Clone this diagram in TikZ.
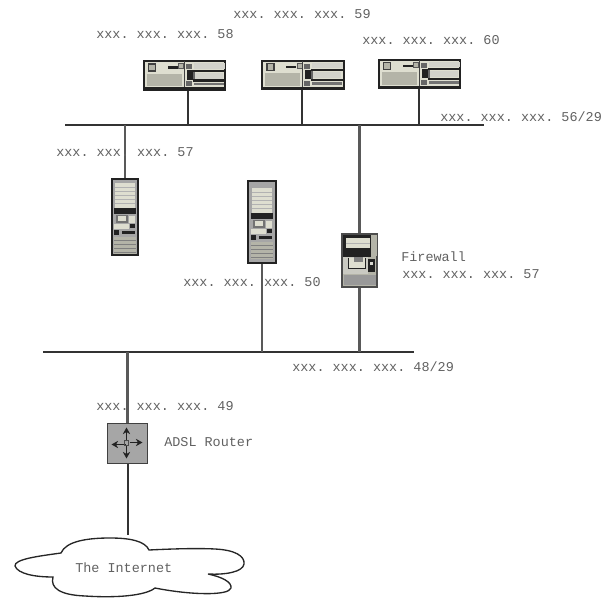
\documentclass[tikz,border=0pt]{standalone}
\usepackage{fontspec}
\setmonofont{Liberation Mono}
\usetikzlibrary{arrows.meta}
\definecolor{boxgray}{HTML}{A6A6A6}
\definecolor{lightpart}{HTML}{DEDED0}
\definecolor{darkpart}{HTML}{222222}
\definecolor{midgray}{HTML}{B4B4A8}
\tikzset{
  x=0.75pt,y=-0.75pt,
  label text/.style={font=\ttfamily\fontsize{10.1}{12}\selectfont,text=black!62,anchor=west,inner sep=0pt},
  bus/.style={draw=black!80,line width=1.5pt},
  link/.style={draw=black!65,line width=1.7pt},
  device/.style={draw=darkpart,line width=1.3pt,fill=lightpart,inner sep=0pt},
  stripes/.style={draw=black!30,line width=0.4pt},
  pics/serverart/.style={code={
    \fill[midgray] (-38,-1.5) rectangle (-3,11);
    \draw[black!75,fill=midgray,line width=0.8pt] (-36,-11.5) rectangle (-29,-4.5);
    \fill[darkpart] (-17,-9) rectangle (-7,-6.5);
    \draw[black!65,fill=midgray,line width=0.7pt] (-6,-12) rectangle (-1,-7);
    \fill[black!75] (-1,-14) rectangle (0,13);
    \fill[black!60] (1,-11) rectangle (7,-6);
    \fill[darkpart] (2,-5) rectangle (8,4.5);
    \fill[black!60] (1,6) rectangle (7,11);
    \fill[darkpart] (8,-5.5) rectangle (40,-3.5);
    \fill[darkpart] (8,4) rectangle (40,6.5);
    \fill[black!60] (8,-3.5) rectangle (10,4);
    \fill[midgray!60] (10,-2.5) rectangle (38,3.5);
    \fill[midgray!60] (9,-12) rectangle (40,-6.5);
    \fill[black!55] (9,7.5) rectangle (39,10);
    \fill[darkpart] (-40,12) rectangle (40,14);
  }},
  pics/towerart/.style={code={
    \fill[lightpart] (-10,-34) rectangle (10,-9);
    \foreach \yy in {-30,-26,-22,-18,-14}{\draw[stripes] (-10,\yy) -- (10,\yy);}
    \fill[darkpart] (-11,-9) rectangle (11,-3);
    \fill[black!55] (-9,-2) rectangle (3,6);
    \fill[lightpart] (-7,-1) rectangle (1,4);
    \fill[lightpart] (4,-1) rectangle (10,6);
    \fill[darkpart] (5,7) rectangle (10,11);
    \fill[lightpart] (-11,7) rectangle (4,12);
    \fill[darkpart] (-11,13) rectangle (-6,18);
    \fill[darkpart] (-3,14) rectangle (10,17);
    \fill[midgray] (-11,20) rectangle (11,37);
    \foreach \yy in {23,27,31,35}{\draw[black!50,line width=0.4pt] (-11,\yy) -- (11,\yy);}
  }},
  pics/firewallart/.style={code={
    \fill[darkpart] (-17,-25) rectangle (11,-3);
    \fill[lightpart] (-14,-22) rectangle (10,-12);
    \draw[stripes] (-14,-17) -- (10,-17);
    \fill[midgray] (12,-25) rectangle (17,-4);
    \fill[midgray!70] (-17,-3) rectangle (8,14);
    \draw[darkpart,fill=lightpart,line width=0.9pt] (-11,-2) -- (-11,8) -- (6,8) -- (6,-2);
    \fill[black!50] (-6,-3) rectangle (3,2);
    \fill[darkpart] (8,-1) rectangle (15,12);
    \fill[midgray!50] (10,2) rectangle (13,5);
    \fill[black!40] (-16,15) rectangle (16,25);
  }},
  pics/routerart/.style={code={
    \draw[-{Stealth[length=5pt,width=5.5pt]},darkpart,line width=0.6pt] (-1,-2) -- (-1,-16);
    \draw[-{Stealth[length=5pt,width=5.5pt]},darkpart,line width=0.6pt] (-1,2) -- (-1,15);
    \draw[-{Stealth[length=5pt,width=5.5pt]},darkpart,line width=0.6pt] (-2,1) -- (-16,1);
    \draw[-{Stealth[length=5pt,width=5.5pt]},darkpart,line width=0.6pt] (2,-1) -- (15,-1);
    \draw[black!70,line width=0.4pt] (-3,-3) rectangle (1,2);
  }},
}
\begin{document}
\begin{tikzpicture}
\useasboundingbox (0,0) rectangle (608,599);
% bus coordinates
\coordinate (b1w) at (65,125.5);
\coordinate (b1e) at (484,125.5);
\coordinate (b2w) at (43,352.5);
\coordinate (b2e) at (414,352.5);
\coordinate (b1a) at (188,125.5);
\coordinate (b1b) at (302,125.5);
\coordinate (b1c) at (419,125.5);
\coordinate (b1d) at (125,125.5);
\coordinate (b1f) at (359.5,125.5);
\coordinate (b2a) at (262,352.5);
\coordinate (b2f) at (359.5,352.5);
\coordinate (b2r) at (127.5,352.5);
% devices
\node[device,minimum width=61pt,minimum height=21.5pt] (s1) at (184.5,75.5) {};
\node[device,minimum width=61pt,minimum height=21.5pt] (s2) at (303,75) {};
\node[device,minimum width=61pt,minimum height=21.5pt] (s3) at (419.5,74) {};
\node[device,fill=black!35,minimum width=19.5pt,minimum height=57pt] (t1) at (125,217) {};
\node[device,fill=black!35,minimum width=21pt,minimum height=61.5pt] (t2) at (262,222) {};
\node[device,fill=midgray,draw=black!70,minimum width=26pt,minimum height=39.5pt] (fw) at (359.5,260.5) {};
\node[device,fill=boxgray,draw=black!75,line width=1.3pt,minimum width=30pt,minimum height=30pt] (rt) at (127.5,443.5) {};
\pic at (s1) {serverart};
\pic at (s2) {serverart};
\pic at (s3) {serverart};
\pic at (t1) {towerart};
\pic at (t2) {towerart};
\pic at (fw) {firewallart};
\pic at (rt) {routerart};
% cloud
\node[label text] (inet) at (75,568) {The Internet};
\draw[black!85,line width=1pt] (61,553)
  .. controls (66,541) and (88,538) .. (110,538)
  .. controls (130,538) and (145,541) .. (149,550)
  .. controls (170,549) and (195,548) .. (215,549)
  .. controls (235,550) and (245,556) .. (244,564)
  .. controls (243,572) and (225,575) .. (208,574)
  .. controls (222,577) and (232,582) .. (231,588)
  .. controls (229,596) and (190,595) .. (155,588)
  .. controls (145,596) and (115,598) .. (85,596)
  .. controls (60,595) and (50,588) .. (53,577)
  .. controls (35,577) and (18,574) .. (15,566)
  .. controls (14,559) and (40,556) .. (61,553) -- cycle;
\coordinate (cloudtop) at (127.5,535);
% connectors
\draw[bus] (b1w) -- (b1e);
\draw[bus] (b2w) -- (b2e);
\draw[bus] (s1.south -| b1a) -- (b1a);
\draw[bus] (s2.south -| b1b) -- (b1b);
\draw[bus] (s3.south -| b1c) -- (b1c);
\draw[link] (b1d) -- (t1.north);
\draw[link] (b1f) -- (fw.north);
\draw[link] (fw.south) -- (b2f);
\draw[link] (t2.south) -- (b2a);
\draw[link] (b2r) -- (rt.north);
\draw[bus] (rt.south) -- (cloudtop);
% labels
\node[label text] (l58) at (96,34) {xxx. xxx. xxx. 58};
\node[label text] (l59) at (233,14) {xxx. xxx. xxx. 59};
\node[label text] (l60) at (362,40) {xxx. xxx. xxx. 60};
\node[label text] (l56) at (440,117) {xxx. xxx. xxx. 56/29};
\node[label text] (l57) at (56,152) {xxx. xxx. xxx. 57};
\node[label text] (lfw) at (401,257) {Firewall};
\node[label text] (lfa) at (402,274) {xxx. xxx. xxx. 57};
\node[label text] (l50) at (183,282) {xxx. xxx. xxx. 50};
\node[label text] (l48) at (292,367) {xxx. xxx. xxx. 48/29};
\node[label text] (l49) at (96,406) {xxx. xxx. xxx. 49};
\node[label text] (lad) at (164,442) {ADSL Router};
\end{tikzpicture}
\end{document}
